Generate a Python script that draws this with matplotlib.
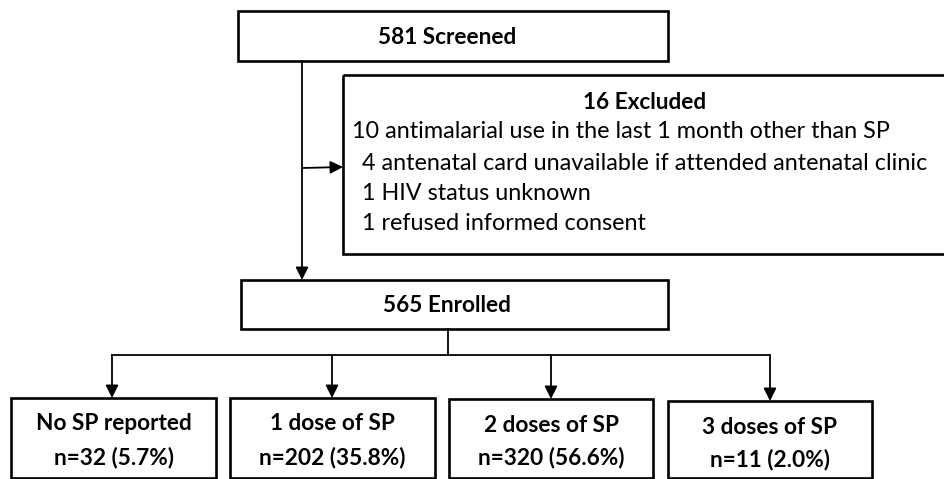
import matplotlib.pyplot as plt
from matplotlib.patches import Rectangle

# flow numbers
screened = 581
enrolled = 565
excl_counts = [10, 4, 1, 1]
excl_reasons = ['antimalarial use in the last 1 month other than SP',
                'antenatal card unavailable if attended antenatal clinic',
                'HIV status unknown',
                'refused informed consent']
group_names = ['No SP reported', '1 dose of SP', '2 doses of SP', '3 doses of SP']
group_n = [32, 202, 320, 11]
group_pct = [5.7, 35.8, 56.6, 2.0]

font = 'Lato'
title_size = 16.3
body_size = 16.8
box_lw = 1.9
line_lw = 1.3

fig = plt.figure(figsize=(9.45, 4.79), dpi=100)
ax = fig.add_axes([0, 0, 1, 1])
ax.set_xlim(0, 945)
ax.set_ylim(479, 0)
ax.axis('off')


def box(x0, y0, x1, y1):
    ax.add_patch(Rectangle((x0, y0), x1 - x0, y1 - y0, fill=False,
                           edgecolor='black', linewidth=box_lw, clip_on=False))


def arrow(x0, y0, x1, y1):
    ax.annotate('', xy=(x1, y1), xytext=(x0, y0),
                arrowprops=dict(arrowstyle='-|>', color='black', lw=line_lw,
                                mutation_scale=19, shrinkA=0, shrinkB=0))


# screened
box(238, 11, 668, 61)
ax.text(447, 37, f'{screened} Screened', ha='center', va='center',
        fontsize=title_size, fontweight='bold', family=font)

# main down arrow
arrow(302, 61, 302, 280)
arrow(302, 168, 343, 167)

# excluded box (runs off the right edge)
box(343, 75, 970, 254)
ax.text(645, 102, f'{sum(excl_counts)} Excluded', ha='center', va='center',
        fontsize=title_size, fontweight='bold', family=font)
excl_x = [352, 362, 362, 362]
excl_y = [132, 163, 193, 223]
for c, r, x, y in zip(excl_counts, excl_reasons, excl_x, excl_y):
    ax.text(x, y, f'{c} {r}', ha='left', va='center',
            fontsize=body_size, family=font)

# enrolled
box(241, 280, 668, 329)
ax.text(447, 305, f'{enrolled} Enrolled', ha='center', va='center',
        fontsize=title_size, fontweight='bold', family=font)

# branches
arrow_x = [112, 332, 551, 770]
box_x = [(11, 216), (230, 435), (449, 653), (668, 872)]
box_top = [398, 398, 399, 401]
ax.plot([448, 448], [329, 355], color='black', lw=line_lw)
ax.plot([arrow_x[0], arrow_x[-1]], [355, 355], color='black', lw=line_lw)

for name, n, p, ax_x, (bx0, bx1), top in zip(group_names, group_n, group_pct,
                                            arrow_x, box_x, box_top):
    arrow(ax_x, 355, ax_x, top)
    box(bx0, top, bx1, 478)
    cx = (bx0 + bx1) / 2
    ax.text(cx, top + 26, name, ha='center', va='center',
            fontsize=title_size, fontweight='bold', family=font)
    ax.text(cx, top + 59, f'n={n} ({p:.1f}%)', ha='center', va='center',
            fontsize=title_size, fontweight='bold', family=font)

fig.savefig('out.png', dpi=100)
